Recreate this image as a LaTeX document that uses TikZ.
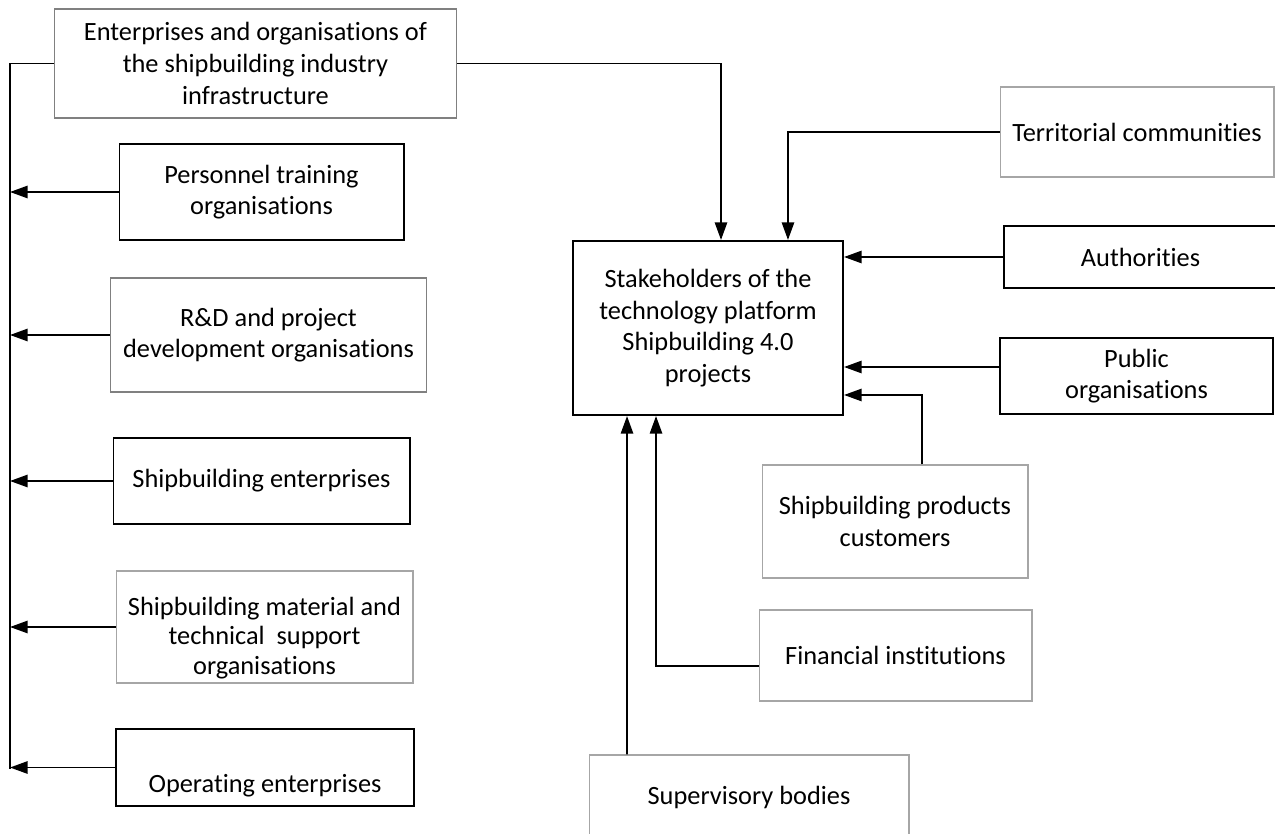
\documentclass[tikz,border=0pt]{standalone}
\usepackage{fontspec}
\setmainfont{Carlito}[Ligatures=NoCommon]
\usetikzlibrary{arrows.meta}

\begin{document}
\begin{tikzpicture}[x=0.02cm, y=-0.02cm,
	font=\fontsize{15}{18}\selectfont,
	box/.style={draw, align=center, inner sep=0pt, line width=0.6pt},
	greybox/.style={box, draw=black!50},
	lightbox/.style={box, draw=black!35},
	heavybox/.style={box, line width=1.2pt},
	link/.style={line width=1pt},
	arr/.style={link, -{Triangle[length=10pt,width=7pt]}}]
	\useasboundingbox (0,0) rectangle (1275,834);
	% left column
	\node[greybox, minimum width=8.06cm, minimum height=2.18cm] (ent) at (255.5,63.5) {Enterprises and organisations of\\the shipbuilding industry\\infrastructure};
	\node[box, minimum width=5.7cm, minimum height=1.92cm] (pers) at (261.5,192) {Personnel training\\organisations};
	\node[greybox, minimum width=6.34cm, minimum height=2.28cm] (rnd) at (268.5,335) {R\&D and project\\development organisations};
	\node[box, minimum width=5.94cm, minimum height=1.72cm] (shipent) at (261.5,481) {Shipbuilding enterprises};
	\node[lightbox, minimum width=5.94cm, minimum height=2.24cm, font=\fontsize{15}{17}\selectfont] (mat) at (264.5,627) {\rule{0pt}{6pt}\\Shipbuilding material and\\technical~ support\\organisations};
	\node[heavybox, minimum width=5.96cm, minimum height=1.54cm] (opr) at (265,767.5) {\strut\\Operating enterprises};
	% centre and right
	\node[heavybox, minimum width=5.4cm, minimum height=3.48cm] (cen) at (708,328) {Stakeholders of the\\technology platform\\Shipbuilding 4.0\\projects};
	\node[lightbox, minimum width=5.48cm, minimum height=1.8cm] (terr) at (1137,132) {Territorial communities};
	\node[heavybox, minimum width=5.46cm, minimum height=1.24cm] (auth) at (1140.5,257) {Authorities};
	\node[heavybox, minimum width=5.46cm, minimum height=1.52cm] (pub) at (1136.5,376) {Public\\organisations};
	\node[lightbox, minimum width=5.32cm, minimum height=2.26cm] (cust) at (895,521.5) {Shipbuilding products\\customers};
	\node[lightbox, minimum width=5.46cm, minimum height=1.82cm] (fin) at (895.5,655.5) {Financial institutions};
	\node[lightbox, minimum width=6.4cm, minimum height=1.68cm] (sup) at (749,797) {Supervisory bodies};
	% bus on the left
	\coordinate (bustop) at (10,63.5);
	\coordinate (busend) at (10,769);
	\draw[link] (ent.west) -- (bustop) -- (busend);
	\draw[arr] (pers.west) -- (pers.west -| bustop);
	\draw[arr] (rnd.west) -- (rnd.west -| bustop);
	\draw[arr] (shipent.west) -- (shipent.west -| bustop);
	\draw[arr] (mat.west) -- (mat.west -| bustop);
	\draw[arr] (opr.west) -- (opr.west -| bustop);
	% into the centre
	\draw[arr] (ent.east) -| ([xshift=0.26cm]cen.north);
	\draw[arr] (terr.west) -| ([xshift=1.6cm]cen.north);
	\draw[arr] (auth.west) -- (auth.west -| cen.east);
	\draw[arr] ([yshift=0.18cm]pub.west) -- ([yshift=0.18cm]pub.west -| cen.east);
	\draw[arr] ([xshift=0.54cm]cust.north) |- ([yshift=-1.34cm]cen.east);
	\draw[arr] ([yshift=-0.21cm]fin.west) -| ([xshift=-1.04cm]cen.south);
	\draw[arr] ([xshift=-2.44cm]sup.north) -- ([xshift=-1.62cm]cen.south);
\end{tikzpicture}
\end{document}
